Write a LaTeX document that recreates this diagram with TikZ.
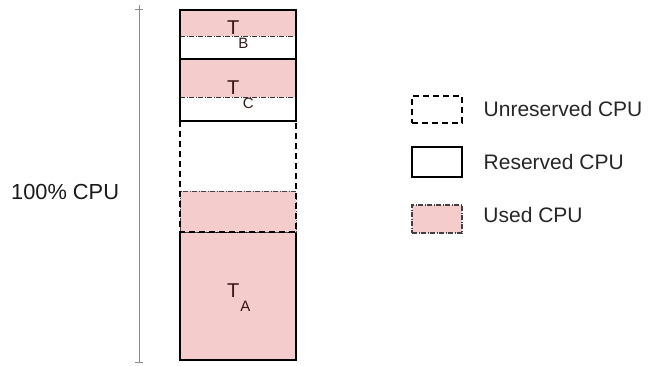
\documentclass[tikz,border=0pt]{standalone}
\usepackage{fontspec}
\setmainfont{Liberation Sans}
\usepackage{xcolor}
\usepackage{tikz}
\usetikzlibrary{positioning}

\definecolor{usedpink}{HTML}{F4CCCC}
\definecolor{tasktext}{HTML}{3A1616}
\tikzset{
  reserved/.style={draw=black, line width=2.8pt},
  unreserved/.style={draw=black, line width=2pt, dash pattern=on 6pt off 4pt},
  used/.style={fill=usedpink, draw=black!75, line width=1pt, dash pattern=on 5pt off 1.5pt on 1pt off 1.5pt},
  usedline/.style={draw=black!80, line width=1pt, dash pattern=on 5pt off 1.5pt on 1pt off 1.5pt},
  keytext/.style={font=\fontsize{21}{25}\selectfont, text=black!85, inner sep=0pt},
  tasklabel/.style={font=\fontsize{20}{24}\selectfont, text=tasktext, anchor=base west, inner sep=0pt},
}
\newcommand{\tasksub}[2]{T\kern#2\raisebox{-14.5pt}{\fontsize{15}{17}\selectfont #1}}

\begin{document}
\begin{tikzpicture}[x=1pt, y=-1pt]
  \useasboundingbox (0,0) rectangle (650,365);

  % Total CPU scale
  \coordinate (scaletop) at (139,5);
  \coordinate (scalebot) at (139,362);
  \draw[black!45, line width=1pt] (scaletop) -- (scalebot);
  \draw[black!45, line width=1pt] (135,9) -- (143,9);
  \draw[black!45, line width=1pt] (135,362) -- (143,362);
  \node[keytext, font=\fontsize{21.8}{26}\selectfont, text=black!90, anchor=base west] (total) at (11,199) {100\% CPU};

  % Task A
  \fill[usedpink] (180,232) rectangle (296,360);
  \draw[reserved] (180,232) rectangle (296,360);
  \node[tasklabel] (labA) at (227,297) {\tasksub{A}{1pt}};

  % Idle part, used and unreserved
  \draw[used] (180,191) rectangle (296,232);
  \draw[unreserved] (180,121) rectangle (296,232);

  % Task B
  \fill[usedpink] (180,10) rectangle (296,36);
  \draw[usedline] (180,36) -- (296,36);
  \draw[reserved] (180,10) rectangle (296,59);
  \node[tasklabel] (labB) at (227,34) {\tasksub{B}{-1pt}};

  % Task C
  \fill[usedpink] (180,59) rectangle (296,97);
  \draw[usedline] (180,97) -- (296,97);
  \draw[reserved] (180,59) rectangle (296,121);
  \node[tasklabel] (labC) at (227,94) {\tasksub{C}{3.5pt}};

  % Legend
  \node[unreserved, minimum width=50pt, minimum height=27pt, inner sep=0pt] (keyunres) at (436.5,109) {};
  \node[reserved, line width=2pt, minimum width=50pt, minimum height=30pt, inner sep=0pt] (keyres) at (436.5,161.5) {};
  \node[used, line width=1.5pt, minimum width=50pt, minimum height=28pt, inner sep=0pt] (keyused) at (437,219) {};
  \node[keytext, right=21pt of keyunres] (txtunres) {Unreserved CPU};
  \node[keytext, right=21pt of keyres] (txtres) {Reserved CPU};
  \node[keytext, right=20.5pt of keyused, yshift=4pt] (txtused) {Used CPU};
\end{tikzpicture}
\end{document}
